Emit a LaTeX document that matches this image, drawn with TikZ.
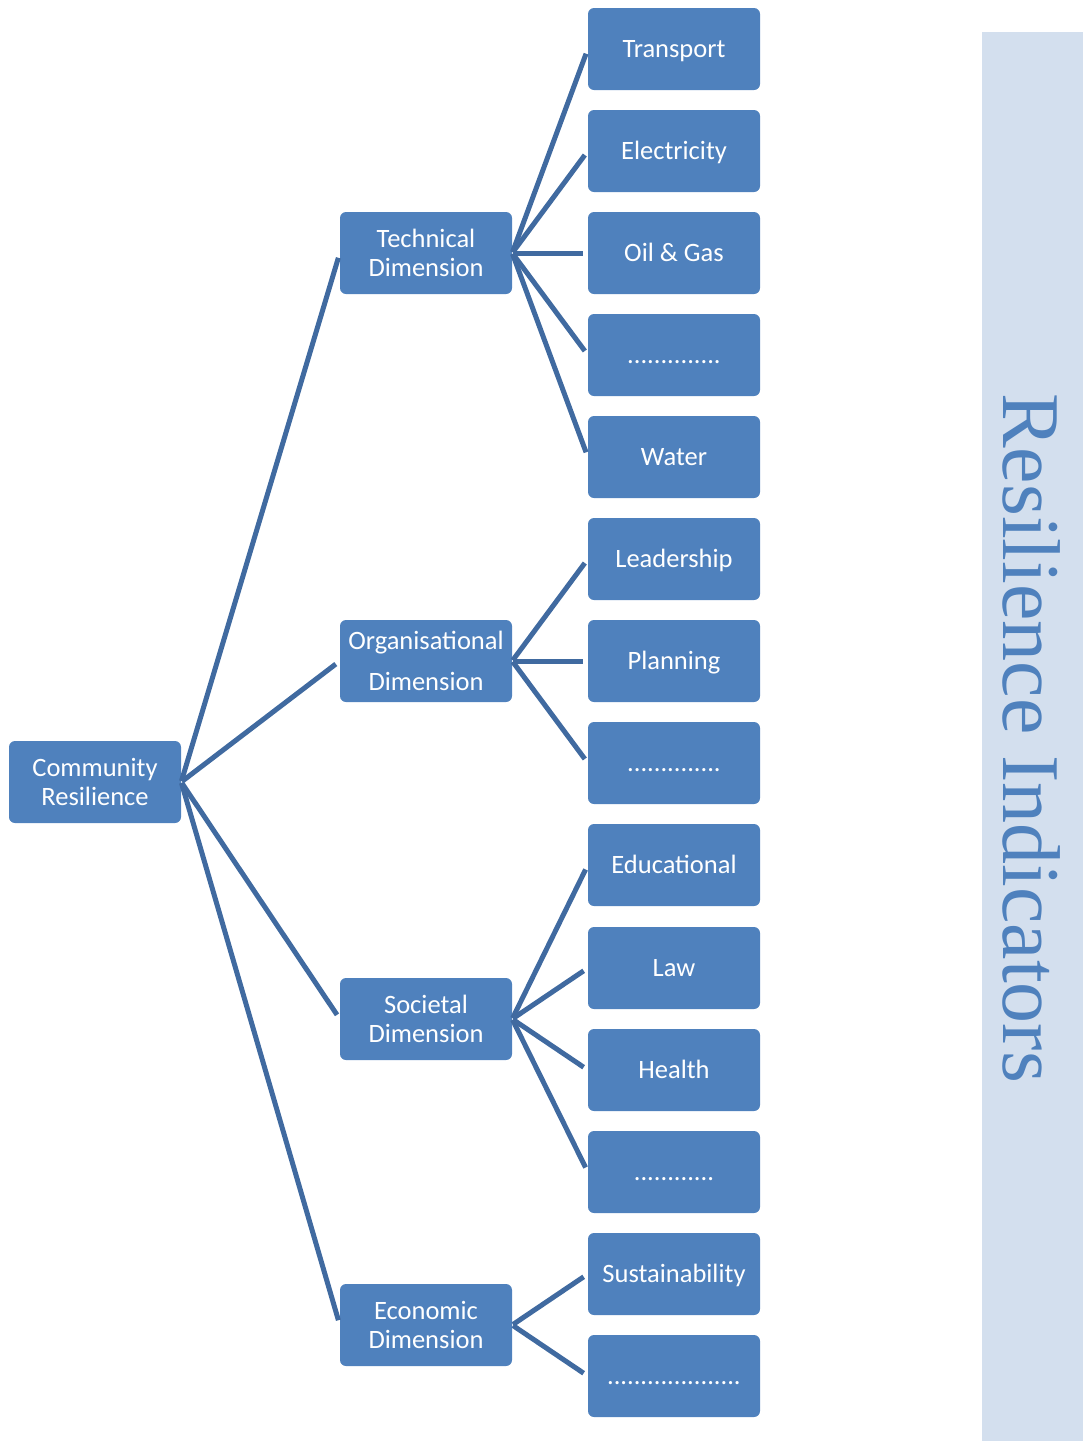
\documentclass[tikz,border=0pt]{standalone}
\usepackage{fontspec}
\setmainfont{Carlito}
\newfontfamily\bandfont{Liberation Serif}
\definecolor{boxblue}{RGB}{79,129,189}
\definecolor{linkblue}{RGB}{64,106,160}
\definecolor{bandblue}{RGB}{211,223,238}
\begin{document}
\begin{tikzpicture}[x=1pt,y=-1pt,
  blk/.style={fill=boxblue, rounded corners=6pt, minimum width=172pt, minimum height=82pt,
    inner sep=0pt, text=white, align=center, font=\fontsize{26.5}{29}\selectfont},
  leaf/.style={blk, text height=22pt, text depth=6pt},
  orgblk/.style={blk, font=\fontsize{26.5}{41}\selectfont},
  link/.style={draw=linkblue, line width=5pt, shorten >=5pt, shorten <=1pt}]
\useasboundingbox (0,0) rectangle (1083,1441);
\fill[bandblue] (982,32) rectangle (1083,1441);
\node[anchor=base, rotate=-90, text=boxblue, font=\bandfont\fontsize{82}{82}\selectfont] (band) at (1003,738) {Resilience Indicators};

\node[blk] (comm) at (95,782) {Community\\Resilience};
\node[blk] (tech) at (426,253) {Technical\\Dimension};
\node[orgblk] (org) at (426,661) {Organisational\\Dimension};
\node[blk] (soc) at (426,1019) {Societal\\Dimension};
\node[blk] (eco) at (426,1325) {Economic\\Dimension};

\node[leaf] (t1) at (674,49) {Transport};
\node[leaf] (t2) at (674,151) {Electricity};
\node[leaf] (t3) at (674,253) {Oil \& Gas};
\node[leaf] (t4) at (674,355) {..............};
\node[leaf] (t5) at (674,457) {Water};
\node[leaf] (o1) at (674,559) {Leadership};
\node[leaf] (o2) at (674,661) {Planning};
\node[leaf] (o3) at (674,763) {..............};
\node[leaf] (s1) at (674,865) {Educational};
\node[leaf] (s2) at (674,968) {Law};
\node[leaf] (s3) at (674,1070) {Health};
\node[leaf] (s4) at (674,1172) {............};
\node[leaf] (e1) at (674,1274) {Sustainability};
\node[leaf] (e2) at (674,1376) {....................};

\foreach \d in {tech,org,soc,eco} \draw[link] (comm.east) -- (\d.west);
\foreach \l in {t1,t2,t3,t4,t5} \draw[link] (tech.east) -- (\l.west);
\foreach \l in {o1,o2,o3} \draw[link] (org.east) -- (\l.west);
\foreach \l in {s1,s2,s3,s4} \draw[link] (soc.east) -- (\l.west);
\foreach \l in {e1,e2} \draw[link] (eco.east) -- (\l.west);
\end{tikzpicture}
\end{document}
